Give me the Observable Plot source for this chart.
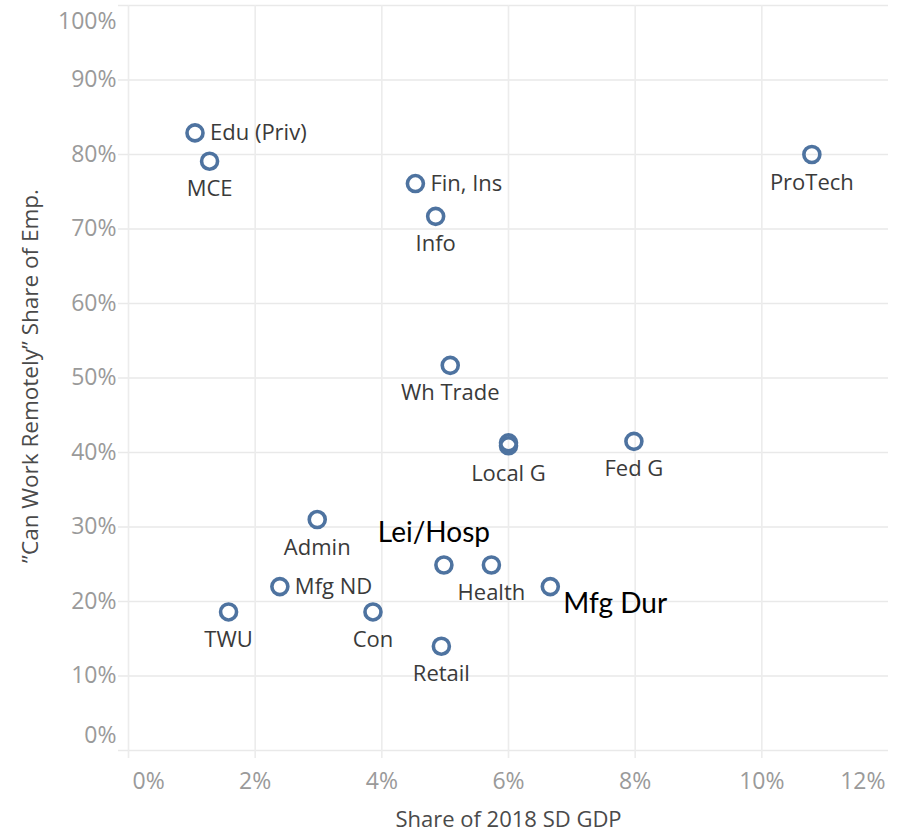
<!DOCTYPE html>
<html>
<head>
<meta charset="utf-8">
<script src="https://cdn.jsdelivr.net/npm/d3@7"></script>
<script src="https://cdn.jsdelivr.net/npm/@observablehq/plot@0.6"></script>
<style>
  html, body { margin: 0; padding: 0; background: #fff; }
  #chart svg { display: block; }
</style>
</head>
<body>
<div id="chart"></div>
<script>
// ---- data ----
const sectors = ["Edu (Priv)", "MCE", "Fin, Ins", "Info", "ProTech", "Wh Trade", "Local G", "State G", "Fed G", "Admin", "Lei/Hosp", "Health", "Mfg ND", "Mfg Dur", "TWU", "Con", "Retail"];
const gdpShare = [1.05, 1.28, 4.53, 4.85, 10.79, 5.08, 6.0, 6.0, 7.98, 2.98, 4.98, 5.73, 2.39, 6.66, 1.58, 3.86, 4.94];
const remoteShare = [82.9, 79.1, 76.1, 71.7, 80.0, 51.7, 40.9, 41.3, 41.5, 31.0, 24.9, 24.9, 22.0, 22.0, 18.6, 18.6, 14.0];
const xTicks = [0, 2, 4, 6, 8, 10, 12];
const yTicks = [0, 10, 20, 30, 40, 50, 60, 70, 80, 90, 100];
const xTitle = "Share of 2018 SD GDP";
const yTitle = "\u201DCan Work Remotely\u201D Share of Emp.";

// ---- presentation ----
const rows = sectors.map((s, i) => ({sector: s, x: gdpShare[i], y: remoteShare[i]}));
const rightLabeled = new Set(["Edu (Priv)", "Fin, Ins", "Mfg ND"]);
const hidden = new Set(["State G"]);
const callouts = new Set(["Lei/Hosp", "Mfg Dur"]);
const below = rows.filter(d => !rightLabeled.has(d.sector) && !hidden.has(d.sector) && !callouts.has(d.sector));
const right = rows.filter(d => rightLabeled.has(d.sector));
const pct = d => d + "%";
const tickFont = {fontSize: 23, fill: "#9a9a9a"};
const blue = "#4e73a0";
const font = "'Open Sans', 'DejaVu Sans', sans-serif";

const chart = Plot.plot({
  width: 901,
  height: 834,
  marginLeft: 128,
  marginRight: 13,
  marginTop: 5,
  marginBottom: 84,
  style: {fontFamily: font, background: "#fff", overflow: "visible"},
  x: {domain: [0, 12]},
  y: {domain: [0, 100]},
  marks: [
    Plot.gridY(yTicks, {stroke: "#e9e9e9", strokeOpacity: 1, strokeWidth: 1.6, insetLeft: -10}),
    Plot.gridX(xTicks.filter(t => t < 12), {stroke: "#ececec", strokeOpacity: 1, strokeWidth: 1.6, insetBottom: -8}),
    Plot.axisY(yTicks.filter(t => t > 0 && t < 100), {tickSize: 0, tickPadding: 12, tickFormat: pct, label: null, ...tickFont}),
    Plot.axisY([100], {tickSize: 0, tickPadding: 12, tickFormat: pct, label: null, dy: 16, ...tickFont}),
    Plot.axisY([0], {tickSize: 0, tickPadding: 12, tickFormat: pct, label: null, dy: -15, ...tickFont}),
    Plot.axisX(xTicks.filter(t => t > 0 && t < 12), {tickSize: 0, tickPadding: 22, tickFormat: pct, label: null, ...tickFont}),
    Plot.axisX([0], {tickSize: 0, tickPadding: 22, tickFormat: pct, label: null, textAnchor: "start", dx: 4, ...tickFont}),
    Plot.axisX([12], {tickSize: 0, tickPadding: 22, tickFormat: pct, label: null, textAnchor: "end", dx: -3, ...tickFont}),
    Plot.text([xTitle], {text: d => d, frameAnchor: "bottom", textAnchor: "middle", lineAnchor: "middle", dy: 69, fontSize: 22, fill: "#4a4a4a"}),
    Plot.text([yTitle], {text: d => d, frameAnchor: "left", textAnchor: "middle", lineAnchor: "middle", rotate: -90, dx: -98, dy: -2, fontSize: 22.5, fill: "#4a4a4a"}),
    Plot.dot(rows, {x: "x", y: "y", r: 8, stroke: blue, strokeWidth: 3.6, fill: "none"}),
    Plot.text(below, {x: "x", y: "y", text: "sector", dy: 28, fontSize: 22, fill: "#3a3a3a"}),
    Plot.text(right, {x: "x", y: "y", text: "sector", dx: 15, textAnchor: "start", fontSize: 22, fill: "#3a3a3a"}),
    Plot.text(rows.filter(d => d.sector === "Lei/Hosp"), {x: "x", y: "y", text: "sector", dx: -10, dy: -32, fontSize: 28, fill: "#000", fontFamily: "Lato, sans-serif"}),
    Plot.text(rows.filter(d => d.sector === "Mfg Dur"), {x: "x", y: "y", text: "sector", dx: 13, dy: 17, textAnchor: "start", fontSize: 28, fill: "#000", fontFamily: "Lato, sans-serif"})
  ]
});
document.getElementById("chart").append(chart);
</script>
</body>
</html>
